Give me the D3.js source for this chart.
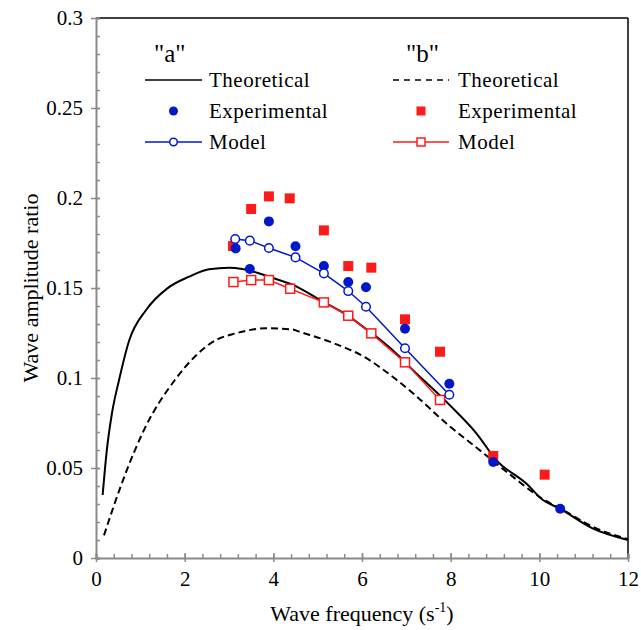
<!DOCTYPE html>
<html><head><meta charset="utf-8">
<script src="https://cdn.jsdelivr.net/npm/d3@7"></script>
<style>body{margin:0;background:#fff}svg{display:block}svg text{font-family:"Liberation Serif",Tinos,"Times New Roman","DejaVu Serif",serif !important;fill:#000}</style>
</head><body><svg id="c" width="641" height="630"></svg>
<script>
const xTicks=[0,2,4,6,8,10,12];
const yTicks=[0,0.05,0.1,0.15,0.2,0.25,0.3];
const yTickLabels=["0","0.05","0.1","0.15","0.2","0.25","0.3"];
const theoA_x=[0.15,0.24,0.36,0.52,0.75,1.13,1.61,2.10,2.55,3.00,3.30,3.90,4.44,5.12,5.72,6.17,6.40,6.85,7.00,7.94,8.58,9.03,9.70,10.08,10.45,11.20,12];
const theoA_y=[0.035,0.059,0.0804,0.0989,0.121,0.1378,0.1498,0.1563,0.1604,0.1613,0.1606,0.1563,0.1517,0.1424,0.134,0.1257,0.1215,0.1118,0.108,0.0859,0.0693,0.0544,0.0415,0.0322,0.0276,0.0165,0.010];
const theoB_x=[0.18,0.61,1.10,1.78,2.70,3.15,3.83,4.43,4.59,5.27,6.10,6.47,7.15,7.90,8.65,9.40,10.0,10.6,11.2,12];
const theoB_y=[0.0126,0.0433,0.072,0.0989,0.121,0.1248,0.1276,0.127,0.1257,0.1202,0.111,0.1048,0.0915,0.0748,0.06,0.0452,0.034,0.0257,0.0174,0.0105];
const expA_x=[3.15,3.47,3.90,4.50,5.14,5.69,6.09,6.97,7.97,8.96,10.47];
const expA_y=[0.172,0.1606,0.187,0.1732,0.1622,0.1533,0.1504,0.1274,0.0968,0.0533,0.0274];
const expB_x=[3.09,3.50,3.90,4.37,5.14,5.69,6.21,6.97,7.76,8.96,10.12];
const expB_y=[0.1733,0.1939,0.2009,0.1998,0.182,0.1622,0.1613,0.1326,0.1146,0.0567,0.0463];
const modA_x=[3.14,3.47,3.90,4.50,5.14,5.69,6.09,6.97,7.97];
const modA_y=[0.1772,0.1763,0.1722,0.1670,0.1581,0.1483,0.1396,0.1165,0.0907];
const modB_x=[3.10,3.50,3.90,4.38,5.14,5.69,6.21,6.97,7.76];
const modB_y=[0.1533,0.1544,0.1544,0.1496,0.142,0.1346,0.1248,0.1087,0.0878];

const svg=d3.select("#c");
const x=d3.scaleLinear().domain([0,12]).range([96,628]);
const y=d3.scaleLinear().domain([0,0.3]).range([558,18]);
const BLUE="#0018c8", RED="#ff1a1a", AX="#8a8a8a";
const FONT='"Liberation Serif", Tinos, "Times New Roman", "DejaVu Serif", serif';
const zip=(a,b)=>a.map((v,i)=>[v,b[i]]);

svg.append("line").attr("x1",x(0)).attr("x2",x(12)).attr("y1",y(0.3)).attr("y2",y(0.3)).attr("stroke","#000").attr("stroke-width",1.5);
svg.append("line").attr("x1",x(12)).attr("x2",x(12)).attr("y1",y(0.3)).attr("y2",y(0)).attr("stroke","#000").attr("stroke-width",1.5);

const gx=svg.append("g").attr("transform",`translate(0,${y(0)})`);
gx.call(d3.axisBottom(x).tickValues(d3.range(0,12.01,0.4)).tickSize(-4).tickFormat(""));
gx.call(g=>{g.select(".domain").attr("stroke",AX).attr("stroke-width",2);g.selectAll(".tick line").attr("stroke",AX).attr("stroke-width",1.5);});
const gx2=svg.append("g").attr("transform",`translate(0,${y(0)})`);
gx2.call(d3.axisBottom(x).tickValues(xTicks).tickSize(4).tickPadding(9).tickFormat(d3.format("d")));
gx2.call(g=>{g.attr("font-family",FONT);g.select(".domain").remove();g.selectAll(".tick line").attr("stroke",AX).attr("stroke-width",1.5).attr("y1",-5);g.selectAll("text").attr("font-size",21).style("font-family",FONT);});

const gy=svg.append("g").attr("transform",`translate(${x(0)},0)`);
gy.call(d3.axisLeft(y).tickValues(d3.range(0,0.3001,0.01)).tickSize(-4).tickFormat(""));
gy.call(g=>{g.select(".domain").attr("stroke",AX).attr("stroke-width",2);g.selectAll(".tick line").attr("stroke",AX).attr("stroke-width",1.5);});
const gy2=svg.append("g").attr("transform",`translate(${x(0)},0)`);
gy2.call(d3.axisLeft(y).tickValues(yTicks).tickSize(5).tickPadding(8).tickFormat((d,i)=>yTickLabels[i]));
gy2.call(g=>{g.attr("font-family",FONT);g.select(".domain").remove();g.selectAll(".tick line").attr("stroke",AX).attr("stroke-width",1.5).attr("x1",4);g.selectAll("text").attr("font-size",21).style("font-family",FONT);});

svg.append("text").attr("x",362).attr("y",621).attr("text-anchor","middle").attr("font-size",22).style("font-family",FONT)
  .html('Wave frequency (s<tspan dy="-9" font-size="14">-1</tspan><tspan dy="9">)</tspan>');
svg.append("text").attr("transform","translate(38,288) rotate(-90)").attr("text-anchor","middle").attr("font-size",22).style("font-family",FONT).text("Wave amplitude ratio");

const line=d3.line().x(d=>x(d[0])).y(d=>y(d[1])).curve(d3.curveMonotoneX);
const lineL=d3.line().x(d=>x(d[0])).y(d=>y(d[1]));

svg.append("path").attr("d",line(zip(theoB_x,theoB_y))).attr("fill","none").attr("stroke","#000").attr("stroke-width",2).attr("stroke-dasharray","7,4");
svg.append("path").attr("d",line(zip(theoA_x,theoA_y))).attr("fill","none").attr("stroke","#000").attr("stroke-width",2);

svg.append("g").selectAll("rect").data(zip(expB_x,expB_y)).join("rect")
  .attr("x",d=>x(d[0])-5).attr("y",d=>y(d[1])-5).attr("width",10).attr("height",10).attr("fill",RED);
svg.append("path").attr("d",lineL(zip(modB_x,modB_y))).attr("fill","none").attr("stroke",RED).attr("stroke-width",1.5);
svg.append("g").selectAll("rect").data(zip(modB_x,modB_y)).join("rect")
  .attr("x",d=>x(d[0])-4.5).attr("y",d=>y(d[1])-4.5).attr("width",9).attr("height",9).attr("fill","#fff").attr("stroke",RED).attr("stroke-width",1.5);
svg.append("g").selectAll("circle").data(zip(expA_x,expA_y)).join("circle")
  .attr("cx",d=>x(d[0])).attr("cy",d=>y(d[1])).attr("r",5).attr("fill",BLUE);
svg.append("path").attr("d",lineL(zip(modA_x,modA_y))).attr("fill","none").attr("stroke",BLUE).attr("stroke-width",1.5);
svg.append("g").selectAll("circle").data(zip(modA_x,modA_y)).join("circle")
  .attr("cx",d=>x(d[0])).attr("cy",d=>y(d[1])).attr("r",4.3).attr("fill","#fff").attr("stroke",BLUE).attr("stroke-width",1.5);

const L=svg.append("g");
const fs=21;
L.append("text").attr("x",154).attr("y",62).attr("font-size",25).style("font-family",FONT).text('"a"');
L.append("text").attr("x",406).attr("y",62).attr("font-size",25).style("font-family",FONT).text('"b"');
const rows=[80,111,142];
const labels=["Theoretical","Experimental","Model"];
[[145,202,209],[393,449,458]].forEach((c,k)=>{
  labels.forEach((t,i)=>L.append("text").attr("x",c[2]).attr("y",rows[i]+7).attr("font-size",fs).attr("letter-spacing",0.5).style("font-family",FONT).text(t));
  const mid=(c[0]+c[1])/2;
  L.append("line").attr("x1",c[0]).attr("x2",c[1]).attr("y1",rows[0]).attr("y2",rows[0]).attr("stroke","#000").attr("stroke-width",1.5).attr("stroke-dasharray",k?"6,5":null);
  const col=k?RED:BLUE;
  if(k){L.append("rect").attr("x",mid-4.5).attr("y",rows[1]-4.5).attr("width",9).attr("height",9).attr("fill",col);}
  else{L.append("circle").attr("cx",mid).attr("cy",rows[1]).attr("r",4.5).attr("fill",col);}
  L.append("line").attr("x1",c[0]).attr("x2",c[1]).attr("y1",rows[2]).attr("y2",rows[2]).attr("stroke",col).attr("stroke-width",1.5);
  if(k){L.append("rect").attr("x",mid-4).attr("y",rows[2]-4).attr("width",8).attr("height",8).attr("fill","#fff").attr("stroke",col).attr("stroke-width",1.5);}
  else{L.append("circle").attr("cx",mid).attr("cy",rows[2]).attr("r",3.8).attr("fill","#fff").attr("stroke",col).attr("stroke-width",1.5);}
});
</script></body></html>
